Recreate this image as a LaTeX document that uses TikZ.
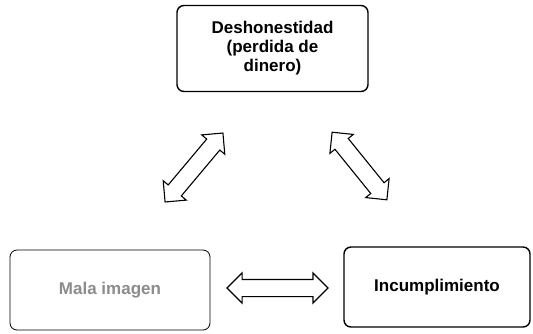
\documentclass[tikz,border=0pt]{standalone}
\usepackage{fontspec}
\setmainfont{Liberation Sans}
\usetikzlibrary{shapes.arrows}
\begin{document}
\begin{tikzpicture}[x=1pt,y=-1pt,
  box/.style={draw=black,line width=1.4pt,rounded corners=7pt,fill=white,inner sep=0pt},
  lbl/.style={font=\bfseries\fontsize{17}{19}\selectfont,align=center,text=black},
  dbl/.style={double arrow,draw=black,line width=1.1pt,fill=white,
    inner xsep=0pt,inner ysep=8pt,double arrow head extend=6.5pt,double arrow tip angle=90}]
\useasboundingbox (0,0) rectangle (533,333);
\node[box,minimum width=191pt,minimum height=86pt] (top) at (272.5,48.5) {};
\node[lbl] (toptxt) at (top.center) {Deshonestidad\\(perdida de\\dinero)};
\node[box,line width=0.8pt,minimum width=200pt,minimum height=80pt] (left) at (110,290) {};
\node[lbl,text=black!45] (lefttxt) at (left.center) {Mala imagen};
\node[box,minimum width=186pt,minimum height=80pt] (right) at (437,287) {};
\node[lbl] (righttxt) at (right.center) {Incumplimiento};
\node[dbl,minimum height=90pt,rotate=50] (a1) at (194,167.5) {};
\node[dbl,minimum height=87pt,rotate=-51] (a2) at (359.5,166) {};
\node[dbl,minimum height=101pt] (a3) at (277.5,288) {};
\end{tikzpicture}
\end{document}
